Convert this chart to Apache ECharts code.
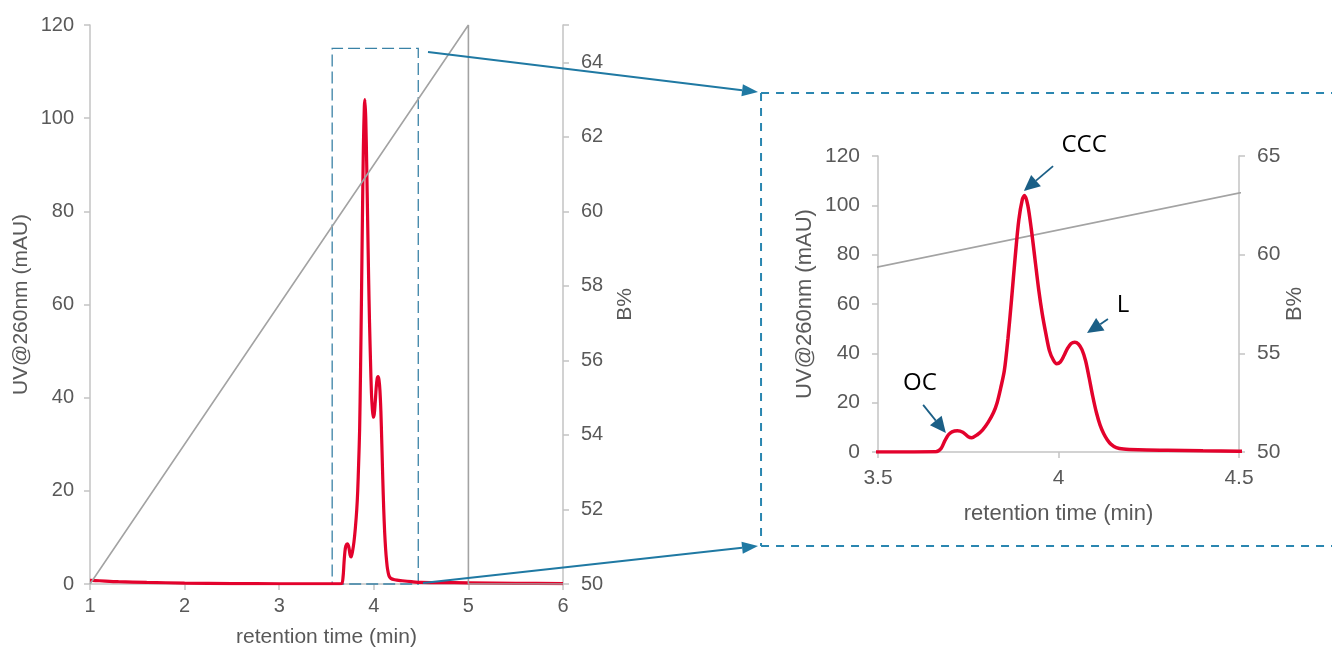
<!DOCTYPE html>
<html><head><meta charset="utf-8">
<script src="https://cdn.jsdelivr.net/npm/echarts@6/dist/echarts.min.js"></script>
<style>html,body{margin:0;padding:0;background:#fff}#c{width:1332px;height:648px}</style>
</head><body><div id="c"></div>
<script>
// ---- data ----
const uvTime = [1.0,1.1,1.3,1.6,2.0,2.5,3.0,3.4,3.6,3.66,3.675,3.685,3.695,3.705,3.72,3.735,3.75,3.76,3.775,3.79,3.805,3.82,3.83,3.84,3.85,3.86,3.87,3.88,3.89,3.9,3.906,3.915,3.925,3.935,3.945,3.955,3.965,3.975,3.985,3.995,4.005,4.015,4.025,4.035,4.045,4.055,4.065,4.075,4.085,4.095,4.105,4.115,4.125,4.135,4.145,4.16,4.18,4.22,4.3,4.4,4.5,4.7,5.0,5.5,6.0];
const uvValue = [0.8,0.7,0.5,0.35,0.2,0.1,0.05,0.05,0.05,0.1,1.5,4.5,7.0,8.2,8.6,8.0,6.2,5.8,7.0,9.0,12,16,20,26,33,46,62,79,94,102.5,104,100,90,78,66,56,48,41,37.5,35.8,36.5,39,42,44,44.5,43.8,41.5,37,30,22.5,16,11,7.5,5,3.2,1.8,1.2,0.9,0.7,0.5,0.35,0.3,0.25,0.15,0.1];
const gradTime = [1, 5, 5, 6];
const gradValue = [50, 65, 50, 50];
const zoomBoxTime = [3.56, 4.47];
const zoomBoxUV = [0, 115];
const annoLabels = ['OC', 'CCC', 'L'];
const annoLabelPos = [[3.616, 28.0], [4.071, 124.4], [4.179, 59.6]];
const annoArrowFrom = [[3.625, 19.1], [3.985, 115.9], [4.137, 53.9]];
const annoArrowTo = [[3.688, 7.7], [3.904, 105.8], [4.079, 48.2]];

const uvData = uvTime.map((t, i) => [t, uvValue[i]]);
const gradData = gradTime.map((t, i) => [t, gradValue[i]]);

const RED = '#e3022c', GRAY_AX = '#c3c3c3', GRAY_LINE = '#a3a3a3', TXT = '#595959';
const FONT = 'Liberation Sans, Arial, sans-serif';

function xAx(grid, min, max, interval, fs, gap, margin) {
  return {gridIndex: grid, type: 'value', min, max, interval,
    axisLine: {show: true, lineStyle: {color: GRAY_AX, width: 1.5}},
    axisTick: {show: true, length: 6, lineStyle: {color: GRAY_AX, width: 1.5}},
    axisLabel: {color: TXT, fontSize: fs, fontFamily: FONT, margin},
    splitLine: {show: false},
    name: 'retention time (min)', nameLocation: 'middle', nameGap: gap,
    nameTextStyle: {color: TXT, fontSize: fs + 1, fontFamily: FONT}};
}
function yAx(grid, pos, min, max, interval, name, fs, gap, margin, hideMax) {
  return {gridIndex: grid, type: 'value', position: pos, min, max, interval,
    axisLine: {show: true, lineStyle: {color: GRAY_AX, width: 1.5}},
    axisTick: {show: true, length: 6, lineStyle: {color: GRAY_AX, width: 1.5}},
    axisLabel: {color: TXT, fontSize: fs, fontFamily: FONT, margin,
      formatter: v => (hideMax && v === max) ? '' : String(v)},
    splitLine: {show: false},
    name, nameLocation: 'middle', nameGap: gap, nameRotate: 90,
    nameTextStyle: {color: TXT, fontSize: fs + 1, fontFamily: FONT}};
}

const chart = echarts.init(document.getElementById('c'), null, {renderer: 'canvas'});
chart.setOption({
  animation: false,
  backgroundColor: '#fff',
  grid: [
    {left: 90, right: 769, top: 25, bottom: 64, containLabel: false, outerBoundsMode: 'none'},
    {left: 878, right: 93, top: 156, bottom: 196, containLabel: false, outerBoundsMode: 'none'}
  ],
  xAxis: [xAx(0, 1, 6, 1, 20, 43, 12), xAx(1, 3.5, 4.5, 0.5, 21, 51, 16)],
  yAxis: [
    yAx(0, 'left', 0, 120, 20, 'UV@260nm (mAU)', 20, 58, 16, false),
    yAx(0, 'right', 50, 65, 2, 'B%', 20, 52, 18, true),
    yAx(1, 'left', 0, 120, 20, 'UV@260nm (mAU)', 21, 62, 18, false),
    yAx(1, 'right', 50, 65, 5, 'B%', 21, 38, 18, false)
  ],
  series: [
    {type: 'line', xAxisIndex: 0, yAxisIndex: 0, data: uvData, showSymbol: false, smooth: 0.3,
      lineStyle: {color: RED, width: 3.2}, z: 3,
      markArea: {silent: true, itemStyle: {color: 'rgba(0,0,0,0)', borderColor: '#3a82a6', borderWidth: 1.3, borderType: [12, 5]},
        data: [[{coord: [zoomBoxTime[0], zoomBoxUV[0]]}, {coord: [zoomBoxTime[1], zoomBoxUV[1]]}]]}},
    {type: 'line', xAxisIndex: 0, yAxisIndex: 1, data: gradData, showSymbol: false,
      lineStyle: {color: GRAY_LINE, width: 1.6}, z: 4},
    {type: 'line', xAxisIndex: 1, yAxisIndex: 3, data: gradData, showSymbol: false, clip: true,
      lineStyle: {color: GRAY_LINE, width: 1.8}, z: 2},
    {type: 'line', xAxisIndex: 1, yAxisIndex: 2, data: uvData, showSymbol: false, smooth: 0.3, clip: true,
      lineStyle: {color: RED, width: 3.5}, z: 3}
  ]
});

const P0 = v => chart.convertToPixel({seriesIndex: 0}, v);
const P1 = v => chart.convertToPixel({seriesIndex: 3}, v);

function arrow(a, b, color, w, hl, hw) {
  const dx = b[0] - a[0], dy = b[1] - a[1], L = Math.hypot(dx, dy), ux = dx / L, uy = dy / L;
  const base = [b[0] - ux * hl, b[1] - uy * hl];
  const px = -uy, py = ux;
  return [
    {type: 'line', silent: true, z: 100, shape: {x1: a[0], y1: a[1], x2: base[0], y2: base[1]}, style: {stroke: color, lineWidth: w}},
    {type: 'polygon', silent: true, z: 100, shape: {points: [b, [base[0] + px * hw / 2, base[1] + py * hw / 2], [base[0] - px * hw / 2, base[1] - py * hw / 2]]}, style: {fill: color}}
  ];
}

const g = [];
// inset frame (dashed), relative to inset axes
const fTL = P1([3.176, 145.5]), fBL = P1([3.176, -38.1]);
const FRAME = '#2a86b0';
const dash = {stroke: FRAME, lineWidth: 2, lineDash: [8, 7]};
g.push({type: 'line', silent: true, shape: {x1: fTL[0], y1: fTL[1], x2: 1340, y2: fTL[1]}, style: dash});
g.push({type: 'line', silent: true, shape: {x1: fBL[0], y1: fBL[1], x2: 1340, y2: fBL[1]}, style: dash});
g.push({type: 'line', silent: true, shape: {x1: fTL[0], y1: fTL[1], x2: fBL[0], y2: fBL[1]}, style: dash});
// connectors from main zoom box to inset frame
const CONN = '#1f79a3';
g.push(...arrow(P0([4.573, 114.2]), [fTL[0] - 3, fTL[1] - 1], CONN, 2, 16, 12));
g.push(...arrow(P0([4.52, 0.2]), [fBL[0] - 3, fBL[1]], CONN, 2, 16, 12));
// annotations
const ANN = '#1b5f86';
annoLabels.forEach((txt, i) => {
  const p = P1(annoLabelPos[i]);
  g.push({type: 'text', silent: true, z: 100, x: p[0], y: p[1],
    style: {text: txt, fill: '#000', font: '24px "Open Sans", sans-serif', align: 'center', verticalAlign: 'middle'}});
  g.push(...arrow(P1(annoArrowFrom[i]), P1(annoArrowTo[i]), ANN, 1.8, 16, 15));
});
chart.setOption({graphic: g});
</script></body></html>
